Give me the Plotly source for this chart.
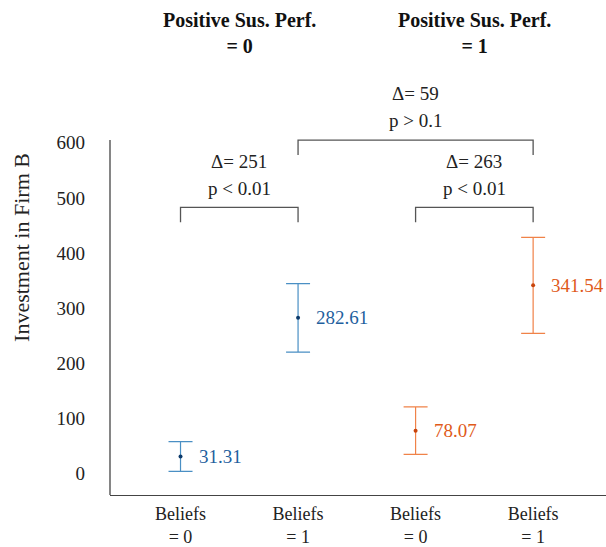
import plotly.graph_objects as go

# ---- data ----
positions = [0, 1, 2, 3]
tick_text = ["Beliefs<br>= 0", "Beliefs<br>= 1", "Beliefs<br>= 0", "Beliefs<br>= 1"]
means = [31.31, 282.61, 78.07, 341.54]
errors = [27, 62, 43, 87]
groups = ["Positive Sus. Perf.<br>= 0", "Positive Sus. Perf.<br>= 1"]
comp_left = [0, 2, 1]
comp_right = [1, 3, 3]
comp_delta = [251, 263, 59]
comp_p = ["p < 0.01", "p < 0.01", "p > 0.1"]
comp_level = [483, 483, 605]
y_ticks = [0, 100, 200, 300, 400, 500, 600]

BLUE_LINE, BLUE_TXT, BLUE_PT = "#4a8fc4", "#1f5f9e", "#0d3a6a"
ORG_LINE, ORG_TXT, ORG_PT = "#f08248", "#e05a1a", "#c8440c"
FONT = "'Liberation Serif', 'Times New Roman', serif"

fig = go.Figure()
series = [(slice(0, 2), BLUE_LINE, BLUE_TXT, BLUE_PT), (slice(2, 4), ORG_LINE, ORG_TXT, ORG_PT)]
for sl, lc, tc, pc in series:
    fig.add_trace(go.Scatter(
        x=positions[sl], y=means[sl], mode="markers",
        marker=dict(size=4, color=pc),
        error_y=dict(type="data", array=errors[sl], color=lc, thickness=1.2, width=12),
        showlegend=False, cliponaxis=False,
    ))
    for x, m in zip(positions[sl], means[sl]):
        fig.add_annotation(x=x, y=m, text=f"{m:.2f}", showarrow=False, xanchor="left",
                           xshift=16, font=dict(family=FONT, size=19, color=tc))

# brackets
gray = "#555555"
leg = 27
for a, b, d, p, top in zip(comp_left, comp_right, comp_delta, comp_p, comp_level):
    xa, xb = positions[a], positions[b]
    fig.add_shape(type="path", xref="x", yref="y",
                  path=f"M {xa},{top-leg} L {xa},{top} L {xb},{top} L {xb},{top-leg}",
                  line=dict(color=gray, width=1.3))
    xc = (xa + xb) / 2
    fig.add_annotation(x=xc, y=top + 84, text=f"Δ= {d}", showarrow=False,
                       font=dict(family=FONT, size=19, color="#222"))
    fig.add_annotation(x=xc, y=top + 35, text=p, showarrow=False,
                       font=dict(family=FONT, size=19, color="#222"))

# group titles
for gi, g in enumerate(groups):
    xc = (positions[2 * gi] + positions[2 * gi + 1]) / 2
    fig.add_annotation(x=xc, y=800, text=f"<b>{g}</b>", showarrow=False,
                       font=dict(family=FONT, size=20, color="#111"))

# left spine
fig.add_shape(type="line", xref="paper", yref="y", x0=0, x1=0, y0=-38.6, y1=605,
              line=dict(color="#444", width=1.3))

fig.update_layout(
    width=606, height=547,
    margin=dict(l=110, r=0, t=0, b=52),
    plot_bgcolor="white", paper_bgcolor="white",
    font=dict(family=FONT, size=19, color="#222"),
    xaxis=dict(range=[-0.6, 3.62], tickvals=positions, ticktext=tick_text,
               showgrid=False, zeroline=False, showline=True, linecolor="#444",
               linewidth=1.3, ticks="", tickfont=dict(family=FONT, size=18), ticklabelstandoff=2),
    yaxis=dict(range=[-38.6, 859], tickvals=y_ticks, showgrid=False, zeroline=False,
               showline=False, ticks="", ticklabelstandoff=24,
               tickfont=dict(family=FONT, size=19),
               title=dict(text="Investment in Firm B", font=dict(family=FONT, size=22), standoff=20)),
)
fig.write_html("out.html")
